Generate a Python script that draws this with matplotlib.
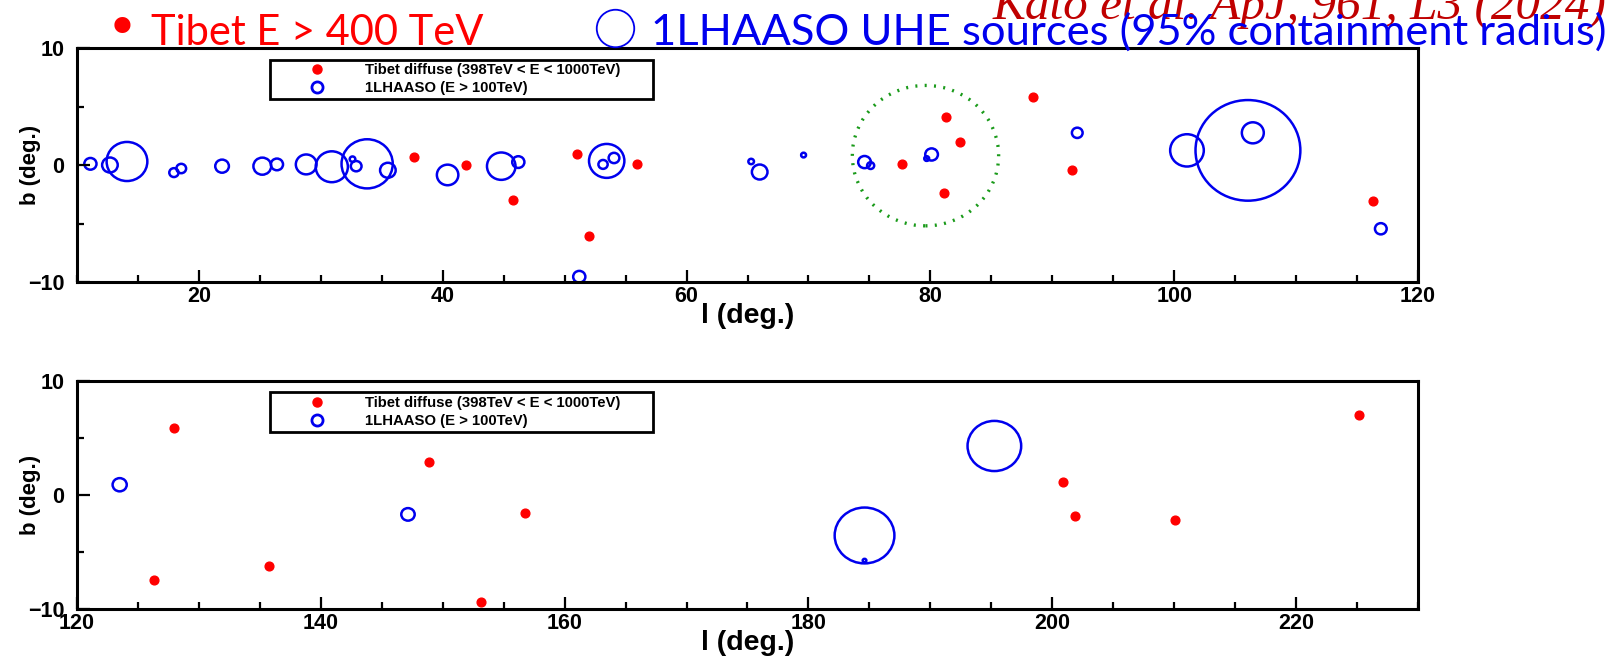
import numpy as np
import matplotlib
matplotlib.use('Agg')
import matplotlib.pyplot as plt
from matplotlib.patches import Circle
from matplotlib.lines import Line2D
from matplotlib.ticker import MultipleLocator

# ---- data (galactic l, b in deg; r = 95% containment radius in deg) ----
top_blue_l = [11.1, 12.7, 14.1, 17.95, 18.55, 21.9, 25.2, 26.4, 28.8, 30.9, 32.6, 32.9,
              33.8, 35.5, 40.4, 44.8, 46.2, 51.2, 53.15, 53.45, 54.05, 65.3, 66.0, 69.6,
              74.6, 75.1, 79.7, 80.1, 92.05, 101.05, 106.05, 106.45, 116.95]
top_blue_b = [0.1, 0.0, 0.3, -0.65, -0.3, -0.1, -0.1, 0.05, 0.05, -0.15, 0.5, -0.1,
              0.1, -0.45, -0.85, -0.1, 0.25, -9.55, 0.05, 0.35, 0.6, 0.3, -0.6, 0.85,
              0.25, -0.05, 0.55, 0.9, 2.75, 1.25, 1.25, 2.75, -5.45]
top_blue_r = [0.5, 0.64, 1.67, 0.38, 0.4, 0.56, 0.73, 0.5, 0.85, 1.32, 0.23, 0.44,
              2.1, 0.64, 0.88, 1.17, 0.5, 0.5, 0.38, 1.45, 0.44, 0.23, 0.64, 0.2,
              0.52, 0.29, 0.2, 0.52, 0.44, 1.38, 4.3, 0.9, 0.48]

top_red_l = [37.65, 41.9, 45.8, 51.0, 52.0, 55.9, 77.7, 81.25, 82.4, 81.1, 88.4, 91.6, 116.3]
top_red_b = [0.7, 0.0, -2.95, 0.9, -6.1, 0.1, 0.1, 4.1, 2.0, -2.4, 5.85, -0.4, -3.05]

# Cygnus cocoon region (green dotted)
cyg_l, cyg_b, cyg_r = 79.6, 0.8, 6.0

bot_blue_l = [123.5, 147.15, 184.6, 184.6, 195.25]
bot_blue_b = [0.9, -1.7, -3.55, -5.75, 4.3]
bot_blue_r = [0.58, 0.55, 2.45, 0.15, 2.2]

bot_red_l = [126.35, 127.95, 135.75, 148.9, 153.1, 156.75, 200.9, 201.85, 210.05, 225.15]
bot_red_b = [-7.45, 5.9, -6.2, 2.9, -9.35, -1.6, 1.1, -1.8, -2.2, 7.0]

W, H = 1614, 661
plt.rcParams['font.family'] = 'Liberation Sans'
plt.rcParams['font.weight'] = 'bold'

fig = plt.figure(figsize=(W / 100, H / 100), dpi=100)


def fpos(x0, y0, x1, y1):
    # pixel box (top-left origin) -> figure fraction
    return [x0 / W, 1 - y1 / H, (x1 - x0) / W, (y1 - y0) / H]


ax1 = fig.add_axes(fpos(77, 48, 1418, 282))
ax2 = fig.add_axes(fpos(77, 381, 1418, 609))


def setup(ax, xlim):
    ax.set_xlim(*xlim)
    ax.set_ylim(-10, 10)
    ax.xaxis.set_major_locator(MultipleLocator(20))
    ax.xaxis.set_minor_locator(MultipleLocator(5))
    ax.yaxis.set_major_locator(MultipleLocator(10))
    ax.yaxis.set_minor_locator(MultipleLocator(5))
    ax.tick_params(which='both', direction='in', top=False, right=False,
                   width=1.6, labelsize=15.5)
    ax.tick_params(axis='x', pad=3)
    ax.tick_params(axis='y', pad=9)
    ax.tick_params(which='major', length=9)
    ax.tick_params(which='minor', length=5)
    for s in ax.spines.values():
        s.set_linewidth(2.2)
    ax.set_xlabel('l (deg.)', fontsize=20.5, fontweight='bold', labelpad=-3)
    ax.set_ylabel('b (deg.)', fontsize=16, fontweight='bold')
    ax.yaxis.set_label_coords(-0.027, 0.5)


def draw_circles(ax, ls, bs, rs):
    for l, b, r in zip(ls, bs, rs):
        ax.add_patch(Circle((l, b), r, fill=False, edgecolor='#0000ee', lw=1.8))


def add_legend(ax):
    h1 = Line2D([], [], ls='none', marker='o', ms=6.5, color='#ff0000', mec='#ff0000')
    h2 = Line2D([], [], ls='none', marker='o', ms=8, mfc='none', mec='#0000ee', mew=2)
    leg = ax.legend([h1, h2], ['Tibet diffuse (398TeV < E < 1000TeV)', '1LHAASO (E > 100TeV)'],
                    loc='upper left', bbox_to_anchor=(0.144, 0.95, 0.2855, 0.0),
                    mode='expand', fontsize=10.7, handlelength=5.8, handletextpad=0.35,
                    borderpad=0.25, labelspacing=0.25, fancybox=False, framealpha=1,
                    edgecolor='black', borderaxespad=0)
    leg.get_frame().set_linewidth(2)


# top panel: l = 10 - 120
setup(ax1, (10, 120))
draw_circles(ax1, top_blue_l, top_blue_b, top_blue_r)
ax1.plot(top_red_l, top_red_b, 'o', color='#ff0000', ms=6.3, mec='#ff0000')
ax1.add_patch(Circle((cyg_l, cyg_b), cyg_r, fill=False,
                     edgecolor='#199a19', lw=2.4, ls=(0, (0.6, 2.2))))
add_legend(ax1)

# bottom panel: l = 120 - 230
setup(ax2, (120, 230))
draw_circles(ax2, bot_blue_l, bot_blue_b, bot_blue_r)
ax2.plot(bot_red_l, bot_red_b, 'o', color='#ff0000', ms=6.3, mec='#ff0000')
add_legend(ax2)

# ---- header annotations ----
hfont = 'Lato'
fig.text(993 / W, 1 - 19 / H, 'Kato et al. ApJ, 961, L3 (2024)', color='#c00000',
         fontsize=35.5, family='Liberation Serif', style='italic', fontweight='normal',
         ha='left', va='baseline')
fig.text(122 / W, 1 - 31 / H, '\u2022', color='#ff0000', fontsize=40, family='DejaVu Sans',
         ha='center', va='center', fontweight='normal')
fig.text(151 / W, 1 - 45 / H, 'Tibet E > 400 TeV', color='#ff0000', fontsize=30,
         family=hfont, fontweight='normal', ha='left', va='baseline')
fig.add_artist(Line2D([615 / W], [1 - 28 / H], marker='o', ms=27, mfc='none',
                      mec='#0000ee', mew=1.3, transform=fig.transFigure))
fig.text(651 / W, 1 - 45 / H, '1LHAASO UHE sources (95% containment radius)', color='#0000ee',
         fontsize=31.3, family=hfont, fontweight='normal', ha='left', va='baseline')

fig.savefig('out.png', dpi=100)
